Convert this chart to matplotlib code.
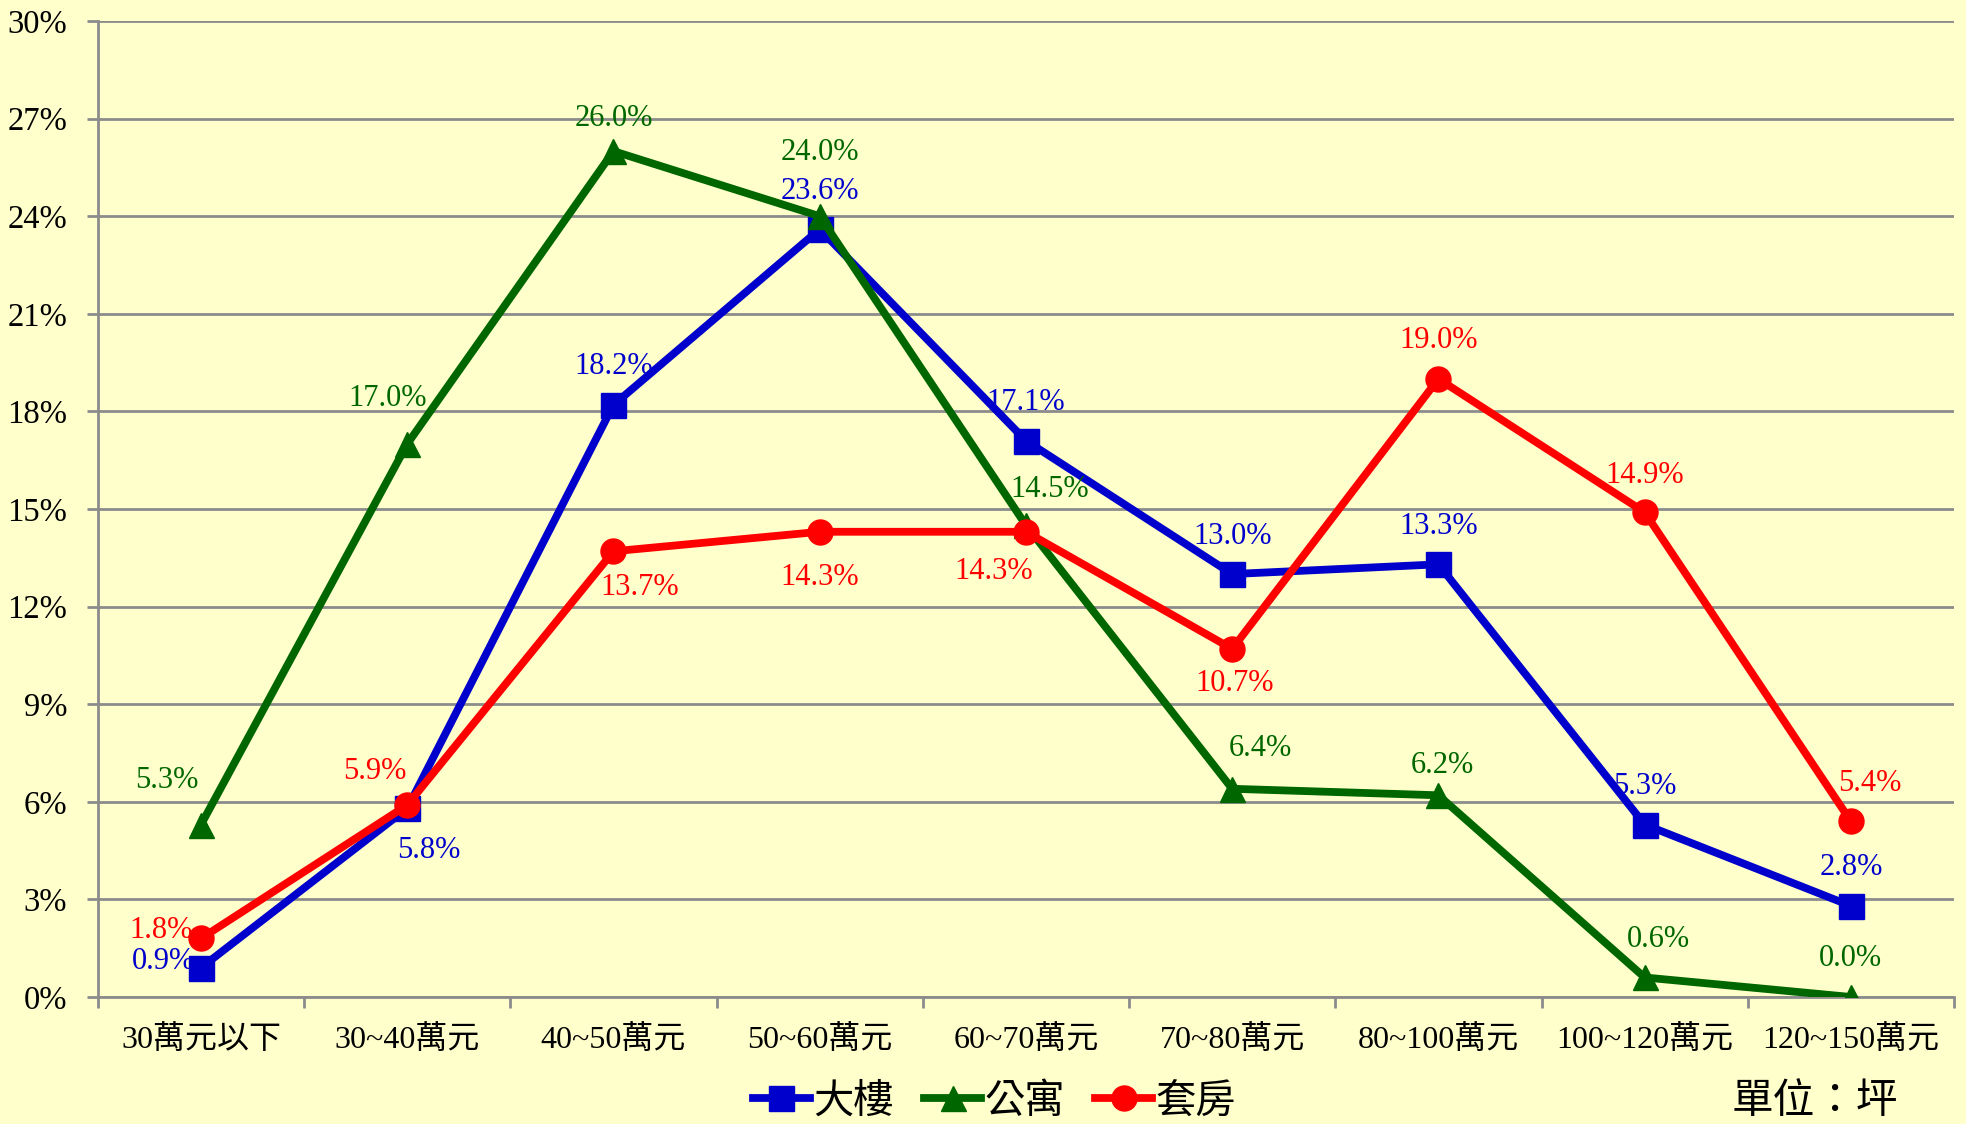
import matplotlib
matplotlib.use("Agg")
import matplotlib.pyplot as plt
from matplotlib.lines import Line2D

categories = ["30萬元以下", "30~40萬元", "40~50萬元", "50~60萬元", "60~70萬元",
              "70~80萬元", "80~100萬元", "100~120萬元", "120~150萬元"]
building = [0.9, 5.8, 18.2, 23.6, 17.1, 13.0, 13.3, 5.3, 2.8]     # 大樓
apartment = [5.3, 17.0, 26.0, 24.0, 14.5, 6.4, 6.2, 0.6, 0.0]     # 公寓
suite = [1.8, 5.9, 13.7, 14.3, 14.3, 10.7, 19.0, 14.9, 5.4]       # 套房
series_names = ["大樓", "公寓", "套房"]
y_ticks = [0, 3, 6, 9, 12, 15, 18, 21, 24, 27, 30]

FONT = ["Liberation Serif", "Noto Sans CJK TC", "DejaVu Sans"]
plt.rcParams["font.family"] = FONT

BG = "#FFFFCC"
GRID = "#8C8C8C"
colors = ["#0000CC", "#006600", "#FF0000"]
markers = ["s", "^", "o"]

# label offsets in pixels (dx, dy), full-size
off_b = [(-38, 6), (22, -42), (0, 38), (0, 38), (0, 38), (0, 38), (0, 38), (0, 38), (0, 38)]
off_a = [(-34, 44), (-20, 45), (0, 33), (0, 64), (24, 36), (28, 40), (4, 30), (14, 38), (0, 38)]
off_s = [(-40, 8), (-32, 34), (26, -36), (0, -46), (-32, -40), (2, -35), (0, 38), (0, 37), (19, 38)]

fig = plt.figure(figsize=(19.66, 11.24), dpi=100, facecolor=BG)
ax = fig.add_axes([0.0498, 0.1130, 0.9441, 0.8683], facecolor=BG)

x = list(range(len(categories)))
for vals, col, mk in [(building, colors[0], markers[0]),
                      (apartment, colors[1], markers[1]),
                      (suite, colors[2], markers[2])]:
    ax.plot(x, vals, color=col, lw=5.6, marker=mk, ms=18, mfc=col, mec=col, zorder=3,
            solid_joinstyle="round")

for vals, col, offs in [(building, colors[0], off_b),
                        (apartment, colors[1], off_a),
                        (suite, colors[2], off_s)]:
    for xi, v, (dx, dy) in zip(x, vals, offs):
        ax.annotate(f"{v:.1f}%", (xi, v), xytext=(dx, dy), textcoords="offset pixels",
                    ha="center", va="center", color=col, fontsize=22, zorder=4)

ax.set_xlim(-0.5, len(categories) - 0.5)
ax.set_ylim(0, 30)
ax.set_yticks(y_ticks)
ax.set_yticklabels([f"{t}%" for t in y_ticks], fontsize=23.5)
ax.yaxis.grid(True, color=GRID, lw=2)
ax.set_axisbelow(True)

ax.set_xticks([i - 0.5 for i in range(len(categories) + 1)])
ax.set_xticklabels([])
ax.set_xticks(x, minor=True)
ax.set_xticklabels(categories, minor=True, fontsize=23)
ax.tick_params(axis="x", which="minor", length=0, pad=20)
ax.tick_params(axis="x", which="major", length=8, width=2, color=GRID)
ax.tick_params(axis="y", length=8, width=2, color=GRID, pad=14)

for s in ["top", "right"]:
    ax.spines[s].set_visible(False)
for s in ["left", "bottom"]:
    ax.spines[s].set_color(GRID)
    ax.spines[s].set_linewidth(2)

handles = [Line2D([0], [0], color=c, lw=5.6, marker=m, ms=18, mfc=c, mec=c)
           for c, m in zip(colors, markers)]
fig.legend(handles, series_names, loc="center", bbox_to_anchor=(0.506, 0.019), ncol=3,
           frameon=False, fontsize=29, handlelength=1.4, handletextpad=0.1,
           columnspacing=0.75, borderaxespad=0)
fig.text(0.923, 0.019, "單位：坪", ha="center", va="center", fontsize=30)

fig.savefig("out.png", dpi=100, facecolor=BG)
